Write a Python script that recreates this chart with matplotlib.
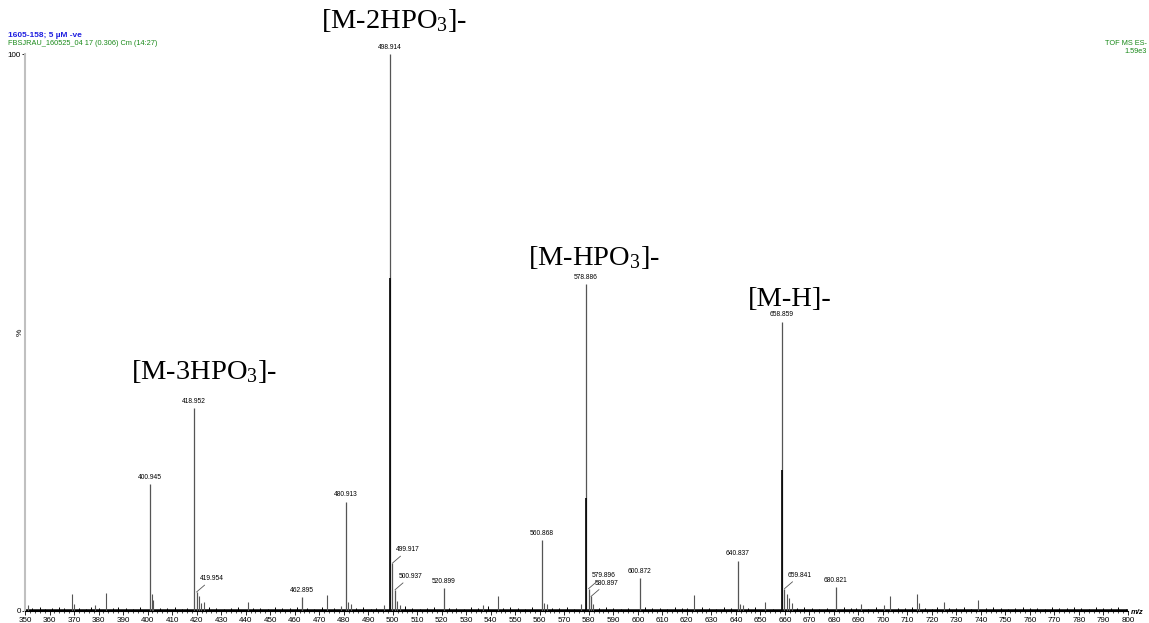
#!/usr/bin/env python3
import numpy as np
import matplotlib.pyplot as plt
from matplotlib.ticker import MultipleLocator

plt.rcParams['mathtext.fontset'] = 'custom'
plt.rcParams['mathtext.rm'] = 'Liberation Serif'
plt.rcParams['mathtext.it'] = 'Liberation Serif'

# labelled peaks (m/z, relative intensity %)
peak_mz = [400.945, 418.952, 419.954, 462.895, 480.913, 498.914, 499.917, 500.937,
           520.899, 560.868, 578.886, 579.896, 580.897, 600.872, 640.837, 658.859,
           659.841, 680.821]
peak_int = [22.8, 36.4, 3.4, 2.5, 19.6, 100.0, 8.6, 3.8,
            4.1, 12.7, 58.7, 4.0, 2.6, 5.9, 9.0, 51.9,
            4.0, 4.3]
# labels drawn off to the side with a small leader line
offset_labels = [419.954, 499.917, 500.937, 579.896, 580.897, 659.841]

# darker profile cores under the main peaks
core_mz = [498.85, 578.83, 658.80]
core_int = [59.8, 20.2, 25.3]

# unlabelled minor peaks
minor_mz = [351.2, 369.0, 370.0, 383.0, 378.5, 401.9, 402.4, 420.9, 421.9, 422.9,
            440.9, 473.0, 481.9, 482.9, 479.0, 496.5, 501.9, 502.9, 536.9, 542.9,
            561.9, 562.8, 577.0, 581.9, 622.9, 641.8, 642.8, 652.0, 660.8, 661.8,
            662.9, 691.0, 702.9, 713.9, 714.9, 724.9, 738.9, 700.6]
minor_int = [1.0, 3.0, 1.2, 3.2, 1.0, 3.0, 2.0, 2.6, 1.4, 1.6,
             1.6, 2.8, 1.6, 1.2, 0.9, 1.1, 1.8, 1.0, 1.0, 2.6,
             1.5, 1.2, 1.2, 1.3, 2.8, 1.2, 1.0, 1.6, 3.0, 2.4,
             1.4, 1.2, 2.6, 3.0, 1.4, 1.6, 2.0, 1.0]

# baseline noise (read roughly along the floor)
noise_mz = [353, 356, 358, 361, 364, 366, 372, 375, 377, 380, 386, 388, 391, 394,
            397, 405, 408, 411, 414, 416, 425, 428, 431, 434, 437, 443, 446, 449,
            452, 455, 458, 461, 465, 468, 471, 476, 485, 488, 491, 493, 505, 508,
            511, 514, 517, 523, 526, 529, 532, 535, 539, 545, 548, 551, 554, 557,
            565, 568, 571, 574, 584, 587, 590, 593, 596, 603, 606, 609, 612, 615,
            618, 620, 626, 629, 632, 635, 638, 645, 648, 655, 665, 668, 671, 674,
            677, 684, 687, 689, 694, 697, 706, 709, 712, 717, 720, 722, 727, 730,
            733, 736, 742, 745, 748, 751, 754, 757, 760, 763, 766, 769, 772, 775,
            778, 781, 784, 787, 790, 793, 796, 799]
noise_int = [0.5, 0.7, 0.4, 0.6, 0.8, 0.5, 0.6, 0.4, 0.7, 0.5, 0.6, 0.8, 0.5, 0.4,
             0.7, 0.6, 0.5, 0.8, 0.4, 0.6, 0.7, 0.5, 0.4, 0.6, 0.8, 0.5, 0.6, 0.4,
             0.7, 0.5, 0.6, 0.8, 0.5, 0.4, 0.7, 0.6, 0.5, 0.8, 0.4, 0.6, 0.9, 0.5,
             0.4, 0.6, 0.8, 0.5, 0.6, 0.4, 0.7, 0.5, 0.9, 0.6, 0.8, 0.5, 0.4, 0.7,
             0.6, 0.5, 0.8, 0.4, 0.6, 0.7, 0.5, 0.4, 0.6, 0.8, 0.5, 0.6, 0.4, 0.7,
             0.5, 0.6, 0.8, 0.5, 0.4, 0.7, 0.6, 0.5, 0.8, 0.4, 0.6, 0.7, 0.5, 0.4,
             0.6, 0.8, 0.5, 0.6, 0.4, 0.7, 0.5, 0.6, 0.8, 0.5, 0.4, 0.7, 0.6, 0.5,
             0.8, 0.4, 0.6, 0.7, 0.5, 0.4, 0.6, 0.8, 0.5, 0.6, 0.4, 0.7, 0.5, 0.6,
             0.8, 0.5, 0.4, 0.7, 0.6, 0.5, 0.8, 0.4]

# ion annotations (text, m/z, intensity position)
ion_text = [r'[M-3HPO$_3$]-', r'[M-2HPO$_3$]-', r'[M-HPO$_3$]-', '[M-H]-']
ion_mz = [423.0, 500.8, 582.2, 662.0]
ion_y = [40.5, 103.6, 61.0, 53.6]

fig = plt.figure(figsize=(11.49, 6.23), dpi=100)
ax = fig.add_axes([0.0218, 0.0193, 0.9599, 0.894])

ax.vlines(noise_mz, 0, noise_int, color='black', lw=0.7)
ax.axhline(0.25, color='black', lw=1.8)
ax.vlines(minor_mz, 0, minor_int, color='#555555', lw=0.8)
ax.vlines(peak_mz, 0, peak_int, color='#555555', lw=0.9)
ax.vlines(core_mz, 0, core_int, color='black', lw=1.2)

for mz, h in zip(peak_mz, peak_int):
    lab = '%.3f' % mz
    if mz in offset_labels:
        ax.annotate(lab, xy=(mz, h), xytext=(2.5, 7), textcoords='offset points',
                    fontsize=4.8, ha='left', va='bottom', family='Liberation Sans',
                    arrowprops=dict(arrowstyle='-', color='#555555', lw=0.6,
                                    shrinkA=0, shrinkB=0))
    else:
        ax.annotate(lab, xy=(mz, h), xytext=(0, 2.5), textcoords='offset points',
                    fontsize=4.8, ha='center', va='bottom', family='Liberation Sans',
                    annotation_clip=False)

for t, mz, y in zip(ion_text, ion_mz, ion_y):
    ax.text(mz, y, t, fontsize=20.5, family='Liberation Serif', ha='center',
            va='bottom', clip_on=False)

ax.set_xlim(350, 800)
ax.set_ylim(0, 100)
ax.xaxis.set_major_locator(MultipleLocator(10))
ax.xaxis.set_minor_locator(MultipleLocator(2))
ax.tick_params(axis='x', which='major', length=3, width=0.6, pad=1, labelsize=5.8)
ax.tick_params(axis='x', which='minor', length=1.5, width=0.5)
ax.set_yticks([0, 100])
ax.tick_params(axis='y', length=2, width=0.6, pad=1, labelsize=5.8)
for lab in ax.get_xticklabels() + ax.get_yticklabels():
    lab.set_family('Liberation Sans')

for s in ['top', 'right']:
    ax.spines[s].set_visible(False)
ax.spines['left'].set_color('#c0c0c0')
ax.spines['left'].set_linewidth(1.5)
ax.spines['bottom'].set_linewidth(0.8)

ax.text(-0.001, 0.5, '%', transform=ax.transAxes, rotation=90, fontsize=6,
        ha='right', va='center', family='Liberation Sans')
ax.text(1.003, -0.002, 'm/z', transform=ax.transAxes, fontsize=5.5, ha='left',
        va='center', fontweight='bold', style='italic', family='Liberation Sans')

fig.text(0.007, 0.937, '1605-158; 5 \u00b5M -ve', color='#2020e0', fontsize=6,
         fontweight='bold', family='Liberation Sans', va='bottom')
fig.text(0.007, 0.924, 'FBSJRAU_160525_04 17 (0.306) Cm (14:27)', color='#1a8a1a',
         fontsize=5.3, family='Liberation Sans', va='bottom')
fig.text(0.998, 0.912, 'TOF MS ES-\n1.59e3', color='#1a8a1a', fontsize=5.3,
         family='Liberation Sans', ha='right', va='bottom', multialignment='right',
         linespacing=1.1)

fig.savefig('out.png', dpi=100)
